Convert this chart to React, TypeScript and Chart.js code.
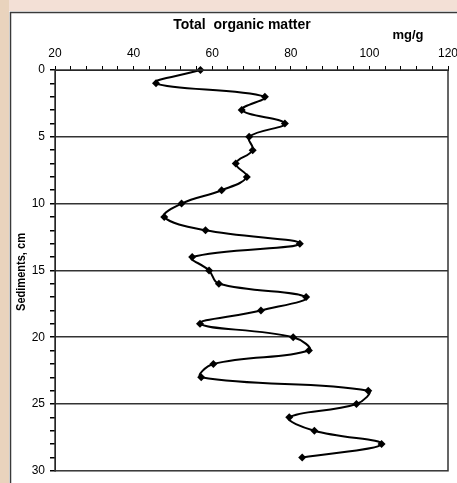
import React, { useEffect, useRef } from "react";
import { Chart, registerables } from "chart.js";

Chart.register(...registerables);

const depthsCm: number[] = [0,1,2,3,4,5,6,7,8,9,10,11,12,13,14,15,16,17,18,19,20,21,22,23,24,25,26,27,28,29];
const organicMatter: number[] = [57,45.7,73.4,67.5,78.5,69.4,70.3,66,68.8,62.4,52.2,47.8,58.3,82.3,54.9,59.2,61.7,83.9,72.4,56.9,80.6,84.6,60.3,57.2,99.7,96.7,79.6,86,103.1,82.9];
const xTickLabels: number[] = [20,40,60,80,100,120];
const yTickLabels: number[] = [0,5,10,15,20,25,30];

const FONT = "'Liberation Sans', Arial, sans-serif";

const framePlugin = {
  id: "framePlugin",
  beforeDraw(chart: any) {
    const { ctx, width, height } = chart;
    ctx.save();
    ctx.fillStyle = "#ffffff";
    ctx.fillRect(0, 0, width, height);
    ctx.fillStyle = "#f3e0d6";
    ctx.fillRect(0, 0, width, 11);
    ctx.fillStyle = "#e9d3bd";
    ctx.fillRect(0, 0, 9, height);
    ctx.strokeStyle = "#3a3a3a";
    ctx.lineWidth = 1.5;
    ctx.beginPath();
    ctx.moveTo(10.5, height);
    ctx.lineTo(10.5, 12.5);
    ctx.lineTo(width, 12.5);
    ctx.stroke();
    ctx.restore();
  },
  afterDatasetsDraw(chart: any) {
    const { ctx, chartArea } = chart;
    ctx.save();
    ctx.strokeStyle = "#333333";
    ctx.lineWidth = 1.5;
    ctx.strokeRect(chartArea.left, chartArea.top, chartArea.right - chartArea.left, chartArea.bottom - chartArea.top);
    ctx.fillStyle = "#000";
    ctx.textAlign = "center";
    ctx.textBaseline = "middle";
    ctx.font = `bold 14px ${FONT}`;
    ctx.fillText("Total  organic matter", 242, 25);
    ctx.font = `bold 13px ${FONT}`;
    ctx.fillText("mg/g", 408, 35);
    ctx.font = `bold 12px ${FONT}`;
    ctx.translate(22, 272);
    ctx.rotate(-Math.PI / 2);
    ctx.scale(0.92, 1);
    ctx.fillText("Sediments, cm", 0, 0);
    ctx.restore();
  },
};

export default function App() {
  const ref = useRef<HTMLCanvasElement | null>(null);
  useEffect(() => {
    if (!ref.current) return;
    const points = depthsCm.map((d, i) => ({ x: organicMatter[i], y: d }));
    const chart = new Chart(ref.current, {
      type: "scatter",
      data: {
        datasets: [
          {
            data: points,
            showLine: true,
            borderColor: "#000",
            borderWidth: 2,
            tension: 0.4,
            pointStyle: "rectRot",
            pointRadius: 4,
            pointBackgroundColor: "#000",
            pointBorderColor: "#000",
            pointBorderWidth: 0,
            clip: false as any,
          },
        ],
      },
      options: {
        animation: false,
        responsive: false,
        maintainAspectRatio: false,
        layout: { padding: { left: 0, top: 0, right: 9, bottom: 6 } },
        plugins: { legend: { display: false }, tooltip: { enabled: false }, title: { display: false } },
        scales: {
          x: {
            type: "linear",
            position: "top",
            min: 20,
            max: 120,
            ticks: {
              stepSize: 4,
              autoSkip: false,
              maxRotation: 0,
              padding: 5,
              color: "#000",
              font: { family: FONT, size: 12 },
              callback: (v: any) => (xTickLabels.includes(Number(v)) ? String(v) : ""),
            },
            grid: { drawOnChartArea: false, drawTicks: true, tickLength: 4, tickColor: "#000" },
            border: { display: true, color: "#000", width: 1 },
            afterFit: (s: any) => {
              s.height = 70;
              s.paddingLeft = 0;
              s.paddingRight = 0;
            },
          },
          y: {
            type: "linear",
            reverse: true,
            min: 0,
            max: 30,
            ticks: {
              stepSize: 1,
              autoSkip: false,
              padding: 5,
              color: "#000",
              font: { family: FONT, size: 12 },
              callback: (v: any) => (yTickLabels.includes(Number(v)) ? String(v) : ""),
            },
            grid: {
              drawOnChartArea: true,
              drawTicks: true,
              tickLength: 5,
              tickColor: "#000",
              lineWidth: 1.5,
              color: (c: any) => {
                const v = c.tick ? c.tick.value : -1;
                return v % 5 === 0 && v !== 0 && v !== 30 ? "#333333" : "rgba(0,0,0,0)";
              },
            },
            border: { display: true, color: "#000", width: 1 },
            afterFit: (s: any) => {
              s.width = 55;
            },
          },
        },
      },
      plugins: [framePlugin],
    });
    return () => chart.destroy();
  }, []);
  return (
    <div style={{ position: "fixed", left: 0, top: 0, width: 457, height: 483 }}>
      <canvas ref={ref} width={457} height={483} style={{ display: "block", width: 457, height: 483 }} />
    </div>
  );
}
